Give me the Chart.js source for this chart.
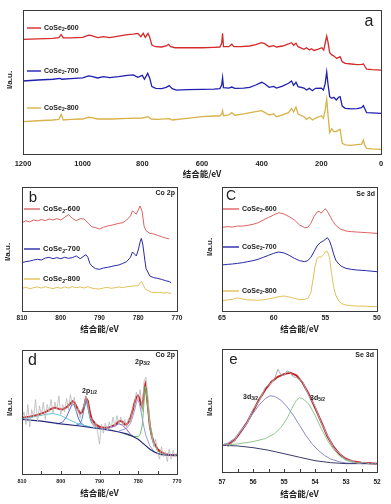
<!DOCTYPE html>
<html><head><meta charset="utf-8">
<script src="https://cdn.jsdelivr.net/npm/chart.js@4.4.1/dist/chart.umd.min.js"></script>
<style>
html,body{margin:0;padding:0;background:#fff;}
body{width:391px;height:504px;position:relative;overflow:hidden;}
.p{position:absolute;}
</style></head><body>
<div class="p" style="left:0;top:0;width:391px;height:182px"><canvas id="ca"></canvas></div>
<div class="p" style="left:0;top:180px;width:195px;height:155px"><canvas id="cb"></canvas></div>
<div class="p" style="left:195px;top:180px;width:196px;height:155px"><canvas id="cc"></canvas></div>
<div class="p" style="left:0;top:340px;width:195px;height:164px"><canvas id="cd"></canvas></div>
<div class="p" style="left:195px;top:340px;width:196px;height:164px"><canvas id="ce"></canvas></div>
<script>
// ---------- Panel a: survey ----------
const aE600 = [1200,1150,1100,1080,1072,1065,1040,1000,980,970,950,930,910,880,850,830,815,805,797,790,781,776,768,755,735,720,712,705,690,650,600,560,540,534,531,528,510,500,493,470,440,420,400,390,375,360,350,330,310,300,293,285,278,258,250,240,233,225,210,198,192,187,182,178,172,165,158,148,137,130,120,100,80,65,59,55,48,30,0];
const aI600 = [79.6,79.9,80.3,80.8,82.9,80.6,80.6,81.0,82.6,82.2,80.8,81.5,80.8,81.9,82.9,83.3,83.8,81.5,83.8,81.0,83.8,81.5,75.7,74.5,74.3,75.0,76.2,74.5,73.8,73.8,73.8,74.1,74.3,76.9,83.8,74.5,74.5,76.2,74.5,74.5,75.0,75.9,77.3,76.6,74.5,75.2,74.3,75.0,76.4,77.3,75.5,76.9,74.5,72.7,73.8,72.2,73.1,71.9,72.9,73.8,72.2,76.9,81.9,78.0,70.4,68.8,68.1,66.4,67.6,64.1,63.0,62.5,62.0,62.3,62.5,61.1,59.0,58.6,58.3];
const aE700 = [1200,1150,1100,1075,1070,1040,1000,980,970,950,930,910,880,850,830,815,800,793,782,775,768,755,735,720,710,700,685,650,600,560,540,534,531,528,510,500,490,460,440,420,400,390,375,360,350,330,310,300,293,285,278,258,250,240,230,220,200,193,187,182,178,172,165,158,150,142,137,130,120,100,80,65,59,55,48,30,0];
const aI700 = [50.7,51.4,51.9,52.5,51.9,52.3,52.8,54.2,53.9,52.8,53.7,53.0,53.7,54.6,54.9,53.2,54.6,51.9,56.0,52.5,46.8,45.6,45.4,46.3,47.5,45.4,44.4,44.7,44.9,45.1,45.4,47.9,53.0,46.1,45.8,46.5,45.6,45.8,46.3,47.9,49.8,48.8,46.3,47.0,45.8,47.2,49.1,50.7,47.7,49.8,46.8,45.8,44.4,45.6,44.0,45.6,45.8,44.4,49.1,56.9,49.1,39.8,38.7,39.4,37.5,39.4,39.8,33.3,31.7,31.3,31.5,32.2,33.6,31.7,28.7,28.5,28.2];
const aE800 = [1200,1150,1100,1080,1072,1065,1040,1000,980,970,950,900,850,800,780,770,750,710,700,650,600,560,540,534,531,528,510,500,490,460,420,400,390,375,360,350,330,310,300,293,285,278,258,250,240,230,220,200,193,187,182,178,172,165,158,150,142,137,130,120,100,80,65,59,55,48,30,0];
const aI800 = [22.5,23.1,23.6,24.1,27.5,23.6,24.1,24.3,25.5,25.2,24.3,24.3,24.8,25.0,25.9,24.3,24.1,24.5,23.6,24.8,25.9,26.4,26.4,27.8,30.1,26.6,27.1,28.7,26.9,27.8,29.4,30.1,28.9,27.1,27.8,25.9,27.1,28.7,31.7,29.2,32.6,27.8,25.9,24.1,25.5,23.6,24.8,26.6,24.8,30.6,38.0,28.2,14.8,17.6,15.6,15.6,16.7,17.1,7.4,6.3,6.0,6.5,6.9,9.7,6.3,3.9,3.5,3.2];

// ---------- Panel b: Co 2p ----------
const bE600 = [810,809,808,807,806,805,804,803,802,801,800,799,798,797,796,795,794,793,792,791,790,789,788,787,786,785,784,783,782,781.5,781,780.5,780,779.5,779,778.5,778,777,776,775,774,773,772];
const bI600 = [71.2,72.8,71.8,73.4,72.6,73.9,72.8,74.2,73.4,74.5,73.4,75.5,77.7,74.7,72.8,74.5,74.2,71.2,68.0,67.2,66.1,67.5,68.5,69.1,69.9,70.7,71.2,73.4,76.6,80.9,79.3,78.2,81.5,84.7,80.1,68.5,64.8,62.6,62.1,61.0,59.9,58.9,58.1];
const bE700 = [810,809,808,807,806,805,804,803,802,801,800,799,798,797,796,795,794,793.5,793,792.5,792,791,790,789,788,787,786,785,784,783,782,781.5,781,780.5,780,779.5,779.2,778.8,778.3,778,777,776,775,774,773,772,771.5];
const bI700 = [39.0,39.8,40.3,41.1,41.7,41.1,42.7,43.3,42.2,43.0,42.2,43.3,42.5,43.0,44.4,42.2,44.4,45.4,43.3,38.4,36.3,34.1,33.6,34.7,35.2,35.8,36.6,37.1,38.4,39.8,43.3,47.6,46.0,44.4,49.2,55.9,58.6,53.2,41.1,34.4,28.2,26.9,26.3,25.5,24.5,23.7,22.8];
const bE800 = [810,809,808,807,806,805,804,803,802,801,800,799,798,797,796,795,794,793,792,791,790,789,788,787,786,785,784,783,782,781,780,779.5,779.2,778.8,778.3,777.5,776.5,775.5,774.5,773.5,772.5,771.5];
const bI800 = [18.3,19.1,18.0,18.8,19.4,18.5,19.6,18.8,18.0,19.1,18.3,19.4,18.5,19.6,18.8,19.4,18.5,19.6,18.5,18.0,17.7,18.5,19.1,18.3,18.8,19.4,18.8,19.6,19.9,20.2,20.4,22.8,23.9,21.8,18.3,16.4,15.1,14.8,15.1,14.5,14.8,14.2];

// ---------- Panel c: Se 3d ----------
const cE600 = [65,64.5,64,63.5,63,62.5,62,61.5,61,60.5,60,59.5,59,58.5,58,57.5,57,56.7,56.4,56.1,55.8,55.6,55.4,55.2,55,54.8,54.6,54.3,54,53.5,53,52.5,52,51,50];
const cI600 = [67.5,68.0,67.7,68.5,68.5,69.1,69.9,71.2,73.4,75.5,77.4,79.3,78.2,76.1,73.4,69.4,67.2,67.5,70.7,76.1,79.8,80.4,78.8,80.9,82.5,80.4,77.4,72.8,69.1,65.9,64.5,64.0,63.7,63.2,62.6];
const cE700 = [65,64.5,64,63.5,63,62.5,62,61.5,61,60.5,60,59.5,59,58.5,58,57.5,57,56.7,56.4,56.1,55.8,55.5,55.2,55,54.8,54.6,54.4,54.2,54,53.7,53.4,53,52.5,52,51,50];
const cI700 = [37.1,37.6,37.9,38.4,39.0,39.8,40.6,41.7,43.3,44.9,46.5,47.6,46.8,44.9,42.5,40.6,39.8,40.6,43.3,47.8,52.4,55.1,56.5,57.8,59.1,56.7,51.9,46.0,41.1,37.9,35.8,34.4,33.6,33.1,32.5,31.7];
const cE800 = [65,64.5,64,63.5,63,62.5,62,61.5,61,60.5,60,59.5,59,58.5,58,57.5,57,56.7,56.4,56.2,56,55.8,55.6,55.4,55.2,55,54.8,54.6,54.4,54.2,54,53.7,53.4,53,52.5,52,51,50];
const cI800 = [8.1,8.9,9.4,10.5,9.7,8.9,8.9,8.6,9.1,9.7,10.5,11.6,12.1,11.3,10.2,9.1,9.4,10.2,14.8,25.0,35.8,42.5,43.8,43.3,45.4,47.6,48.1,43.3,30.4,19.6,12.9,8.1,5.9,4.8,4.3,4.0,3.8,3.5];

// ---------- Panel d: Co 2p fit ----------
const dRawE = [810,809.5,809,808.5,808,807.5,807,806.5,806,805.5,805,804.5,804,803.5,803,802.5,802,801.5,801,800.5,800,799.5,799,798.5,798,797.5,797,796.5,796,795.5,795,794.5,794,793.5,793,792.5,792,791.5,791,790.5,790,789.5,789,788.5,788,787.5,787,786.5,786,785.5,785,784.5,784,783.5,783,782.5,782,781.5,781,780.5,780,779.5,779,778.5,778,777.5,777,776.5,776,775.5,775,774.5,774,773.5,773,772.5,772,771.5,771,770.5,770];
const dRawI = [44,50,40,56,38,52,46,60,42,55,47,58,44,56,50,60,49,58,52,63,48,56,50,61,52,64,55,62,50,53,45,52,55,63,57,46,44,37,42,34,24,40,33,41,35,42,37,46,38,47,40,46,39,44,38,45,42,53,55,66,60,68,50,75,78,62,40,34,22,28,17,12,22,14,18,10,20,12,19,14,17];
const dFitE = [810,808,806,804,802.5,801.5,800.5,799.5,798.5,797.5,797,796.5,796,795,794.5,794,793.5,793,792.5,792,791,790,789,788,787,786,785,784.5,784,783.5,783,782.5,782,781.5,781,780.5,780.1,779.7,779.3,779,778.7,778.4,778.2,778,777.7,777.3,777,776.5,776,775,774,773,772,771,770];
const dFitI = [45.3,46.1,47.7,49.9,52.5,53.6,52.5,52.0,53.9,56.8,58.7,57.9,54.7,48.8,49.9,54.1,61.3,58.7,49.9,44.0,40.0,38.1,37.3,37.3,38.1,39.5,42.4,42.9,41.9,40.0,40.0,41.9,45.3,50.7,56.8,61.9,63.2,61.3,56.0,54.1,60.0,69.3,72.0,68.5,60.0,48.0,38.7,30.7,25.3,20.0,17.3,16.0,15.5,15.2,15.2];
const dBgE = [810,805,800,795,790,787,785,783,782,781,780,779,778,777,776,775,774,772,770];
const dBgI = [44.0,42.7,40.5,38.7,36.5,35.2,33.9,32.3,31.2,29.6,28.0,25.3,22.7,20.0,17.9,16.5,15.7,15.2,15.2];
const dSatE = [810,808,806,804,802,800,798,796,794,792,790];
const dSatI = [44.5,45.3,46.7,48.0,48.8,47.2,44.0,41.1,39.2,37.6,36.5];
const dP797E = [801,799.5,798.5,797.5,797,796.5,796,795.5,795,794,793];
const dP797I = [40.3,41.9,46.1,53.3,56.8,55.2,50.7,45.3,41.9,39.2,38.1];
const dP793E = [796,795,794.5,794,793.5,793,792.5,792,791,790];
const dP793I = [39.5,40.5,44.5,52.0,60.0,53.3,45.3,40.8,38.1,36.8];
const dP785E = [790,788,786,785,784,783,782,781];
const dP785I = [36.5,36.8,38.7,40.5,39.2,36.0,32.0,29.6];
const dP780E = [785,783,782,781,780.5,780.2,779.8,779.3,779,778.5,778,777,776,775,774,772];
const dP780I = [34.7,36.8,40.8,50.7,57.3,60.0,57.9,50.7,45.3,37.3,30.7,22.7,18.4,16.5,15.7,15.2];
const dP778E = [784,782,780,779.5,779,778.7,778.4,778.2,778,777.7,777.3,777,776.5,776,775,774,773];
const dP778I = [32.8,30.7,30.1,32.0,38.7,49.3,64.0,70.7,68.0,58.7,46.7,37.3,29.3,24.0,18.7,16.3,15.5];

// ---------- Panel e: Se 3d fit ----------
const eRawE = [57,56.9,56.8,56.7,56.6,56.4,56.2,56,55.8,55.6,55.4,55.3,55.2,55.1,55,54.9,54.8,54.7,54.6,54.4,54.2,54,53.8,53.6,53.4,53.2,53,52.8,52.6,52.4,52.2,52.1,52];
const eRawI = [20.9,23.1,20.4,23.6,25.3,34.0,38.9,50.8,57.9,68.8,72.6,76.1,83.4,79.3,78.3,82.3,80.7,77.4,76.9,73.4,62.2,53.5,39.9,29.9,19.8,14.9,10.1,9.0,6.8,7.9,6.3,7.6,6.0];
const eFitE = [57,56.8,56.6,56.4,56.2,56,55.8,55.6,55.4,55.2,55,54.8,54.6,54.4,54.2,54,53.8,53.6,53.4,53.2,53,52.8,52.5,52.2,52];
const eFitI = [21.7,22.3,25.8,32.6,39.9,49.5,59.0,67.1,73.4,77.4,79.6,80.7,78.5,72.6,63.3,52.4,40.8,29.1,20.4,14.4,10.6,8.7,7.6,7.1,6.8];
const e32E = [57,56.8,56.6,56.4,56.2,56,55.8,55.6,55.45,55.3,55.1,54.9,54.7,54.5,54.3,54.1,53.9,53.7,53.5,53.2,53,52.5,52];
const e32I = [21.7,23.6,27.2,32.6,39.9,47.6,54.6,59.8,62.0,61.4,58.4,53.0,46.2,38.0,29.9,23.1,17.7,13.6,10.6,8.2,7.3,6.8,6.8];
const e52E = [57,56.5,56,55.6,55.3,55.1,54.9,54.75,54.6,54.5,54.4,54.2,54,53.8,53.6,53.4,53.2,53,52.7,52.3,52];
const e52I = [21.7,22.8,24.7,27.2,31.3,36.1,43.5,51.6,58.4,60.3,59.8,55.2,46.2,35.3,25.8,18.2,12.8,9.5,7.6,6.8,6.8];
const eBgE = [57,56.5,56,55.5,55,54.5,54,53.5,53,52];
const eBgI = [21.7,21.2,19.8,17.7,14.9,12.0,9.2,7.6,6.8,6.8];

// ---------- ticks ----------
const aTicks = [1200,1000,800,600,400,200,0];
const bTicks = [810,800,790,780,770];
const cTicks = [65,60,55,50];
const dTicks = [810,800,790,780,770];
const eTicks = [57,56,55,54,53,52];

const xTitle = '结合能/eV';
const yTitle = 'I/a.u.';
const TXT = '#222';
const SANS = '"Liberation Sans", Arial, sans-serif';
const CJK = '"Noto Sans CJK SC", sans-serif';

function pts(E, I){ return E.map((x,i)=>({x:x, y:I[i]})); }
function ds(E, I, color, w){ return {data:pts(E,I), borderColor:color, borderWidth:w, pointRadius:0, fill:false, tension:0}; }

function drawSubText(ctx, x, y, parts, size){
  // parts: [[text, isSub], ...]
  let cx = x;
  for (const [t, sub] of parts){
    ctx.font = 'bold ' + (sub ? size*0.7 : size) + 'px ' + SANS;
    ctx.fillText(t, cx, sub ? y + size*0.3 : y);
    cx += ctx.measureText(t).width;
  }
}

function decoPlugin(d){
  return {
    id:'deco',
    afterDraw(chart){
      const ctx = chart.ctx, a = chart.chartArea, xs = chart.scales.x;
      ctx.save();
      // frame
      ctx.strokeStyle = '#3a3a3a'; ctx.lineWidth = 1;
      ctx.strokeRect(Math.round(a.left)+0.5, Math.round(a.top)+0.5, Math.round(a.right-a.left), Math.round(a.bottom-a.top));
      // inward ticks
      if (d.minor){
        ctx.beginPath();
        for (let v = xs.min; v <= xs.max + 1e-6; v += d.minor){
          const px = Math.round(xs.getPixelForValue(v)) + 0.5;
          ctx.moveTo(px, a.bottom); ctx.lineTo(px, a.bottom - 3);
        }
        ctx.stroke();
      }
      ctx.fillStyle = TXT;
      // y title
      ctx.save();
      ctx.translate(d.yt[0], d.yt[1]); ctx.rotate(-Math.PI/2);
      ctx.font = 'bold 8px ' + SANS; ctx.textAlign = 'center'; ctx.textBaseline = 'middle';
      ctx.fillText(yTitle, 0, 0);
      ctx.restore();
      // panel letter
      ctx.font = d.letter[3] + 'px ' + SANS; ctx.textAlign = 'center'; ctx.textBaseline = 'middle';
      ctx.fillText(d.letter[0], d.letter[1], d.letter[2]);
      // tag
      if (d.tag){
        ctx.font = 'bold 7px ' + SANS; ctx.textAlign = 'right'; ctx.textBaseline = 'middle';
        ctx.fillText(d.tag[0], d.tag[1], d.tag[2]);
      }
      // legends
      ctx.textAlign = 'left'; ctx.textBaseline = 'middle';
      for (const L of (d.legends||[])){
        ctx.strokeStyle = L.c; ctx.lineWidth = 1.4;
        ctx.beginPath(); ctx.moveTo(L.x1, L.y); ctx.lineTo(L.x2, L.y); ctx.stroke();
        ctx.fillStyle = TXT;
        drawSubText(ctx, L.tx, L.y, [['CoSe',false],['2',true],[L.t,false]], L.s);
      }
      // peak labels
      for (const P of (d.labels||[])){
        ctx.fillStyle = TXT;
        drawSubText(ctx, P.x, P.y, [[P.m,false],[P.sub,true]], 7);
      }
      ctx.restore();
    }
  };
}

function makeChart(id, c){
  return new Chart(document.getElementById(id), {
    type:'line',
    data:{datasets:c.datasets},
    options:{
      responsive:true, maintainAspectRatio:false, animation:false, devicePixelRatio:1,
      events:[],
      layout:{padding:{left:c.pad[0], right:c.pad[1], top:c.pad[2], bottom:0}},
      plugins:{legend:{display:false}, tooltip:{enabled:false}},
      scales:{
        x:{type:'linear', reverse:true, min:c.min, max:c.max,
           afterFit(s){ s.height = c.axisH; },
           afterBuildTicks(s){ s.ticks = c.ticks.map(v=>({value:v})); },
           grid:{display:false, drawTicks:false}, border:{display:false},
           ticks:{padding:c.tp, color:TXT, font:{family:SANS, size:c.tf, weight:'bold'}, maxRotation:0, autoSkip:false, callback:v=>String(v)},
           title:{display:true, text:xTitle, color:TXT, font:{family:CJK, size:8.5, weight:'bold'}, padding:{top:0, bottom:c.tb}}
        },
        y:{display:false, min:0, max:100}
      }
    },
    plugins:[decoPlugin(c.deco)]
  });
}

const RA='#d42a2a', BA='#1f1fb0', YA='#d8b24a';
const RB='#e06060', BB='#2828a8', YB='#e2c05a';

makeChart('ca', {
  min:0, max:1200, ticks:aTicks, pad:[23,10,10], axisH:28, tp:5, tf:7.5, tb:3.5,
  datasets:[ds(aE600,aI600,RA,1.3), ds(aE700,aI700,BA,1.3), ds(aE800,aI800,YA,1.3)],
  deco:{yt:[10,80], letter:['a',369,22,16],
    legends:[{x1:27,x2:41,y:28,c:RA,tx:44,t:'-600',s:7},{x1:27,x2:41,y:71,c:BA,tx:44,t:'-700',s:7},{x1:27,x2:41,y:108,c:YA,tx:44,t:'-800',s:7}]}
});
makeChart('cb', {
  min:770, max:810, ticks:bTicks, pad:[22,18,7], axisH:24, tp:3, tf:6.5, tb:1.2,
  datasets:[ds(bE600,bI600,RB,1), ds(bE700,bI700,BB,1), ds(bE800,bI800,YB,1)],
  deco:{yt:[8,72], letter:['b',33,18,15], tag:['Co 2p',175,13],
    legends:[{x1:24,x2:40,y:29,c:RB,tx:43,t:'-600',s:7.5},{x1:24,x2:40,y:69,c:BB,tx:43,t:'-700',s:7.5},{x1:24,x2:40,y:99,c:YB,tx:43,t:'-800',s:7.5}]}
});
makeChart('cc', {
  min:50, max:65, ticks:cTicks, pad:[27,14,7], axisH:24, tp:3, tf:7, tb:1.2,
  datasets:[ds(cE600,cI600,RB,1), ds(cE700,cI700,BB,1), ds(cE800,cI800,YB,1)],
  deco:{yt:[15,67], letter:['C',36,16,14], tag:['Se 3d',180,14],
    legends:[{x1:28,x2:44,y:29,c:RB,tx:47,t:'-600',s:7},{x1:28,x2:44,y:67,c:BB,tx:47,t:'-700',s:7},{x1:28,x2:44,y:111,c:YB,tx:47,t:'-800',s:7}]}
});
makeChart('cd', {
  min:770, max:810, ticks:dTicks, pad:[22,18,10], axisH:30, tp:4, tf:5.5, tb:6.6,
  datasets:[
    ds(dRawE,dRawI,'#b8b8b8',0.8),
    ds(dBgE,dBgI,'#25257a',1.2),
    ds(dSatE,dSatI,'#62c6d6',1),
    ds(dP797E,dP797I,'#5a6ad6',1),
    ds(dP793E,dP793I,'#4a8ec0',1),
    ds(dP785E,dP785I,'#8a5ac8',1),
    ds(dP780E,dP780I,'#9a9ad8',1),
    ds(dP778E,dP778I,'#66c466',1),
    ds(dFitE,dFitI,'#cc2020',2)
  ],
  deco:{yt:[10,67], letter:['d',32.5,21,16], tag:['Co 2p',175,15], minor:5,
    labels:[{m:'2p',sub:'1/2',x:82,y:51},{m:'2p',sub:'3/2',x:135,y:22}]}
});
makeChart('ce', {
  min:52, max:57, ticks:eTicks, pad:[27,14,9], axisH:32, tp:6, tf:6.5, tb:5.6,
  datasets:[
    ds(eRawE,eRawI,'#a8a8a8',1),
    ds(eBgE,eBgI,'#3a3a6a',1),
    ds(e32E,e32I,'#8a8acc',1),
    ds(e52E,e52I,'#90c890',1),
    ds(eFitE,eFitI,'#c0282e',2)
  ],
  deco:{yt:[15,67], letter:['e',38.5,20,15], tag:['Se 3d',179,15], minor:0.5,
    labels:[{m:'3d',sub:'3/2',x:48,y:57},{m:'3d',sub:'5/2',x:115,y:58}]}
});
</script>
</body></html>
